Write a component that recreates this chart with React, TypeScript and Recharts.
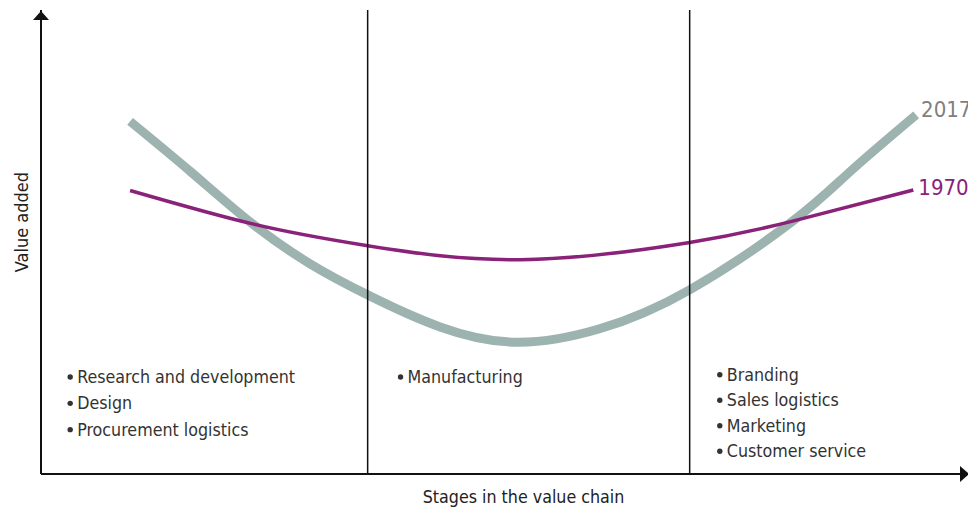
import { LineChart, Line, XAxis, YAxis, ReferenceLine, ReferenceDot } from 'recharts';

// curve samples (x: position along the chain, y: value added)
const x2017 = [9.6, 16.1, 22.8, 29.0, 35.2, 43.0, 51.3, 60.2, 69.9, 81.0, 87.2, 94.3];
const y2017 = [76.0, 65.2, 53.9, 45.3, 38.6, 31.7, 28.4, 31.3, 39.7, 54.5, 65.2, 77.4];
const x1970 = [9.6, 22.8, 35.2, 51.6, 69.9, 81.0, 94.0];
const y1970 = [61.1, 53.9, 49.2, 46.2, 49.9, 54.5, 61.2];

const stageBounds = [35.2, 69.9];
const upstream = ['Research and development', 'Design', 'Procurement logistics'];
const midstream = ['Manufacturing'];
const downstream = ['Branding', 'Sales logistics', 'Marketing', 'Customer service'];

const FONT = "'DejaVu Sans Condensed', 'Liberation Sans Narrow', Roboto, sans-serif";
const GRAY = '#9cb3b0';
const PURPLE = '#8a2279';

const data2017 = x2017.map((x, i) => ({ x, v: y2017[i] }));
const data1970 = x1970.map((x, i) => ({ x, v: y1970[i] }));

const yearLabel = (text: string, color: string, last: number, dy: number) => (props: any) => {
  if (props.index !== last) return null;
  return (
    <text x={props.x + 5} y={props.y + dy} fill={color} fontSize={22} fontFamily={FONT}>
      {text}
    </text>
  );
};

const bulletList = (items: string[], gap: number) => (props: any) => (
  <g>
    {items.map((t, i) => (
      <g key={t}>
        <circle cx={props.cx - 7} cy={props.cy + i * gap - 6} r={2.7} fill="#333" />
        <text x={props.cx} y={props.cy + i * gap} fill="#333" fontSize={17.7} fontFamily={FONT}>
          {t}
        </text>
      </g>
    ))}
  </g>
);

export default function App() {
  return (
    <LineChart
      width={968}
      height={501}
      margin={{ top: 2, right: 7, left: 33, bottom: 35 }}
      style={{ overflow: 'visible' }}
    >
      <XAxis type="number" dataKey="x" domain={[0, 100]} hide />
      <YAxis type="number" dataKey="v" domain={[0, 100]} hide />

      <Line
        data={data2017}
        dataKey="v"
        type="natural"
        stroke={GRAY}
        strokeWidth={9}
        dot={false}
        isAnimationActive={false}
        label={yearLabel('2017', '#7f7f7f', x2017.length - 1, 2)}
      />
      <Line
        data={data1970}
        dataKey="v"
        type="natural"
        stroke={PURPLE}
        strokeWidth={3.5}
        dot={false}
        isAnimationActive={false}
        label={yearLabel('1970', PURPLE, x1970.length - 1, 5)}
      />

      {stageBounds.map((b) => (
        <ReferenceLine key={b} x={b} stroke="#111" strokeWidth={1.5} />
      ))}
      <ReferenceLine x={0} stroke="#111" strokeWidth={2} />
      <ReferenceLine y={0} stroke="#111" strokeWidth={2} />

      {/* axis arrowheads */}
      <ReferenceDot
        x={0}
        y={100}
        r={0}
        shape={(p: any) => (
          <path d={`M${p.cx - 8},${p.cy + 10} L${p.cx},${p.cy + 1} L${p.cx + 8},${p.cy + 10} Z`} fill="#111" />
        )}
      />
      <ReferenceDot
        x={100}
        y={0}
        r={0}
        shape={(p: any) => (
          <path d={`M${p.cx - 9},${p.cy - 8} L${p.cx},${p.cy} L${p.cx - 9},${p.cy + 8} Z`} fill="#111" />
        )}
      />

      {/* axis titles */}
      <ReferenceDot
        x={52}
        y={0}
        r={0}
        shape={(p: any) => (
          <text x={p.cx} y={p.cy + 29} textAnchor="middle" fill="#222" fontSize={17.7} fontFamily={FONT}>
            Stages in the value chain
          </text>
        )}
      />
      <ReferenceDot
        x={0}
        y={54.3}
        r={0}
        shape={(p: any) => (
          <text
            x={p.cx - 13}
            y={p.cy}
            textAnchor="middle"
            transform={`rotate(-90 ${p.cx - 13} ${p.cy})`}
            fill="#222"
            fontSize={18}
            fontFamily={FONT}
          >
            Value added
          </text>
        )}
      />

      {/* stage contents */}
      <ReferenceDot x={3.9} y={19.6} r={0} shape={bulletList(upstream, 26.3)} />
      <ReferenceDot x={39.5} y={19.6} r={0} shape={bulletList(midstream, 26)} />
      <ReferenceDot x={73.9} y={20.1} r={0} shape={bulletList(downstream, 25.5)} />
    </LineChart>
  );
}
